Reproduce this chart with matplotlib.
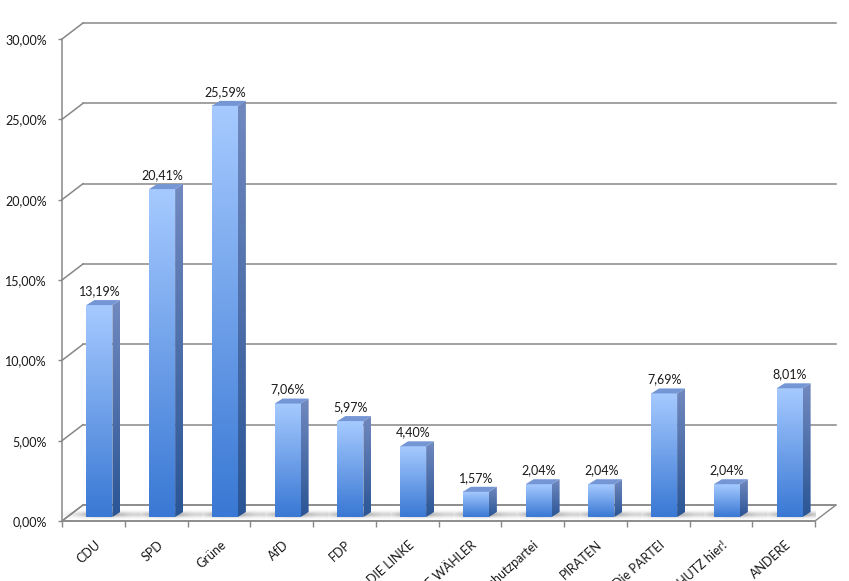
import numpy as np
import matplotlib
matplotlib.use("Agg")
import matplotlib.pyplot as plt
from matplotlib.patches import Polygon
from matplotlib.colors import LinearSegmentedColormap
from matplotlib.ticker import FuncFormatter
from matplotlib.transforms import ScaledTranslation

parties = ["CDU", "SPD", "Grüne", "AfD", "FDP", "DIE LINKE", "FREIE WÄHLER",
           "Tierschutzpartei", "PIRATEN", "Die PARTEI", "KLIMASCHUTZ hier!", "ANDERE"]
shares = [13.19, 20.41, 25.59, 7.06, 5.97, 4.40, 1.57, 2.04, 2.04, 7.69, 2.04, 8.01]
y_ticks = [0, 5, 10, 15, 20, 25, 30]

plt.rcParams["font.family"] = ["Lato", "DejaVu Sans"]

W, H = 849, 581
fig = plt.figure(figsize=(W / 100, H / 100), dpi=100)

# front plane of the 3d box in pixels
left, bottom, right, top = 62, 521, 815, 39
ax = fig.add_axes([left / W, (H - bottom) / H, (right - left) / W, (bottom - top) / H])
n = len(parties)
ax.set_xlim(-0.5, n - 0.5)
ax.set_ylim(0, 30)
ax.set_autoscale_on(False)
ax.patch.set_visible(False)

# pixel -> data units
ux = n / (right - left)
uy = 30 / (bottom - top)

grid_col = "#878787"
back_dx, back_dy = 21 * ux, 16 * uy      # back wall offset
fr_dx, fr_dy = 6 * ux, 4 * uy            # bar front face offset
dep_dx, dep_dy = 8 * ux, 5 * uy          # bar depth
bw = 26 * ux

x0, x1 = -0.5, n - 0.5

# floor
floor = Polygon([(x0, 0), (x1, 0), (x1 + back_dx, back_dy), (x0 + back_dx, back_dy)],
                closed=True, facecolor="white", edgecolor=grid_col, lw=1.0,
                clip_on=False, zorder=1)
ax.add_patch(floor)

# back wall gridlines and side wall diagonals
for yv in y_ticks:
    ax.plot([x0 + back_dx, x1 + back_dx], [yv + back_dy, yv + back_dy],
            color=grid_col, lw=1.1, clip_on=False, zorder=1)
    ax.plot([x0, x0 + back_dx], [yv, yv + back_dy],
            color=grid_col, lw=1.1, clip_on=False, zorder=1)

front_cmap = LinearSegmentedColormap.from_list("front", ["#3978d4", "#a6caff"])
side_cmap = LinearSegmentedColormap.from_list("side", ["#2a5595", "#7189bf"])
grad = np.linspace(1, 0, 128).reshape(-1, 1)

# shadow texture
sx = np.linspace(-40, 40, 120)
sy = np.linspace(0, 12, 30)
gx = np.exp(-((sx - 4) / 26) ** 2)
gy = np.exp(-((sy - 6.5) / 2.8) ** 2)
shadow = np.zeros((len(sy), len(sx), 4))
shadow[..., :3] = 0.45
shadow[..., 3] = 0.7 * np.outer(gy, gx)

for i, v in enumerate(shares):
    xl = i + fr_dx - bw / 2
    xr = i + fr_dx + bw / 2
    yb = fr_dy
    yt = v + fr_dy
    z = 3 + i * 0.01

    ax.imshow(shadow, extent=(i + fr_dx - 40 * ux, i + fr_dx + 40 * ux, 1 * uy, 13 * uy),
              aspect="auto", interpolation="bilinear", zorder=2)

    # front face
    ax.imshow(grad, extent=(xl, xr, yb, yt), cmap=front_cmap, vmin=0, vmax=1,
              aspect="auto", interpolation="bilinear", zorder=z)

    # side face
    side = Polygon([(xr, yb), (xr + dep_dx, yb + dep_dy), (xr + dep_dx, yt + dep_dy), (xr, yt)],
                   closed=True, facecolor="none", edgecolor="none")
    ax.add_patch(side)
    im = ax.imshow(grad, extent=(xr, xr + dep_dx, yb, yt + dep_dy), cmap=side_cmap,
                   vmin=0, vmax=1, aspect="auto", interpolation="bilinear", zorder=z)
    im.set_clip_path(side)

    # top face
    ax.add_patch(Polygon([(xl, yt), (xr, yt), (xr + dep_dx, yt + dep_dy), (xl + dep_dx, yt + dep_dy)],
                         closed=True, facecolor="#7596d4", edgecolor="none", zorder=z))

    label = f"{v:.2f}%".replace(".", ",")
    ax.annotate(label, xy=(i, v), xytext=(6 * 0.72, 14 * 0.72), textcoords="offset points",
                ha="center", va="baseline", fontsize=9, color="#1a1a1a", zorder=10)

# axes
for s in ["top", "right"]:
    ax.spines[s].set_visible(False)
for s in ["left", "bottom"]:
    ax.spines[s].set_color(grid_col)
    ax.spines[s].set_linewidth(1.1)
    ax.spines[s].set_zorder(2)

ax.set_yticks(y_ticks)
ax.yaxis.set_major_formatter(FuncFormatter(lambda v, p: f"{v:.2f}%".replace(".", ",")))
ax.tick_params(axis="y", length=3, width=1, color=grid_col, pad=8, labelsize=9,
               labelcolor="#1a1a1a")

ax.set_xticks([])
ax.set_xticks(np.arange(-0.5, n, 1), minor=True)
ax.tick_params(axis="x", which="minor", length=4, width=1, color=grid_col)

lbl_off = ScaledTranslation(5 / 100, -22 / 100, fig.dpi_scale_trans)
for i, name in enumerate(parties):
    ax.text(i, 0, name, transform=ax.transData + lbl_off, rotation=42,
            rotation_mode="anchor", ha="right", va="center", fontsize=9,
            color="#1a1a1a")

fig.savefig("out.png", dpi=100)
